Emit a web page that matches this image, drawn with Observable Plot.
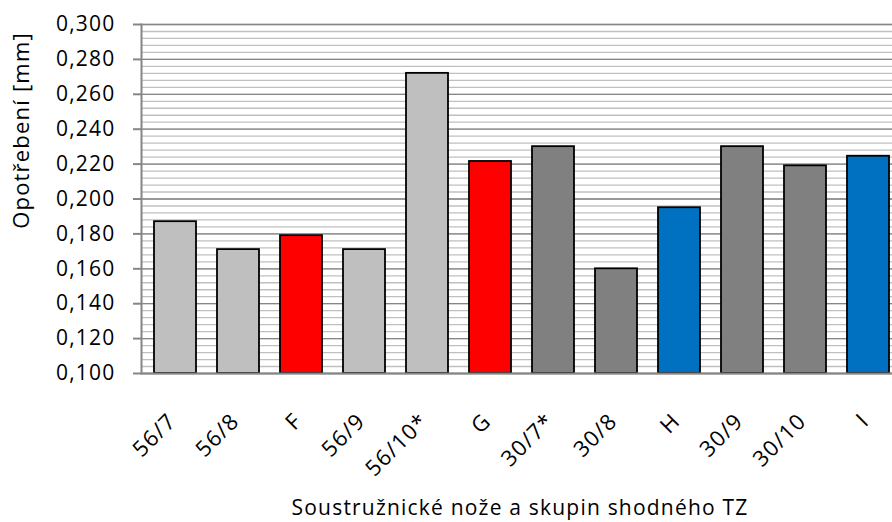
<!DOCTYPE html>
<html>
<head>
<meta charset="utf-8">
<script src="https://cdn.jsdelivr.net/npm/d3@7"></script>
<script src="https://cdn.jsdelivr.net/npm/@observablehq/plot@0.6"></script>
<style>
  html, body { margin: 0; padding: 0; background: #fff; overflow: hidden; }
  #chart svg { display: block; font-family: "Open Sans", sans-serif; }
</style>
</head>
<body>
<div id="chart"></div>
<script>
// Data
const categories = ["56/7", "56/8", "F", "56/9", "56/10*", "G", "30/7*", "30/8", "H", "30/9", "30/10", "I"];
const values = [0.187, 0.171, 0.179, 0.171, 0.272, 0.2215, 0.230, 0.160, 0.195, 0.230, 0.219, 0.2245];
const groups = ["56", "56", "FG", "56", "56", "FG", "30", "30", "HI", "30", "30", "HI"];
const yTicks = [0.100, 0.120, 0.140, 0.160, 0.180, 0.200, 0.220, 0.240, 0.260, 0.280, 0.300];
const yMinorStep = 0.004;
const yLabel = "Opotřebení [mm]";
const xLabel = "Soustružnické nože a skupin shodného TZ";

const data = categories.map((c, i) => ({category: c, value: values[i], group: groups[i]}));
const yMin = yTicks[0], yMax = yTicks[yTicks.length - 1];
const minorTicks = d3.range(Math.round(yMin / yMinorStep), Math.round(yMax / yMinorStep) + 1)
  .map(k => +(k * yMinorStep).toFixed(4));
const fmt = d => d.toFixed(3).replace(".", ",");

const W = 892, H = 522;
const mL = 141, mT = 24, mB = 149;

const chart = Plot.plot({
  width: W,
  height: H,
  marginLeft: mL,
  marginRight: 0,
  marginTop: mT,
  marginBottom: mB,
  style: {fontFamily: "Open Sans, sans-serif", fontSize: "21px", color: "#000", letterSpacing: "1.2px"},
  x: {domain: categories, range: [mL, 901], paddingInner: 1/3, paddingOuter: 1/6, label: null},
  y: {domain: [yMin, yMax], label: null},
  color: {domain: ["56", "FG", "30", "HI"], range: ["#bfbfbf", "#ff0000", "#808080", "#0070c0"]},
  marks: [
    Plot.ruleY(minorTicks, {stroke: "#c0c0c0", strokeWidth: 1.3}),
    Plot.ruleY(yTicks, {stroke: "#868686", strokeWidth: 1.3}),
    Plot.barY(data, {x: "category", y1: () => yMin, y2: "value", fill: "group", stroke: "#000", strokeWidth: 1.8}),
    Plot.ruleY([yMin], {stroke: "#868686", strokeWidth: 2}),
    Plot.frame({anchor: "left", stroke: "#868686", strokeWidth: 2}),
    Plot.axisY({ticks: yTicks, tickFormat: fmt, tickSize: 8, tickPadding: 18, stroke: "#868686", strokeWidth: 2, strokeOpacity: 1, fontSize: 21, label: null}),
    Plot.axisX({tickRotate: -45, tickSize: 0, tickPadding: 34, dy: 10, dx: -3, fontSize: 22, label: null}),
    Plot.text([yLabel], {frameAnchor: "top-left", dx: -120, dy: 106, rotate: -90, textAnchor: "middle", lineAnchor: "middle", fontSize: 22, fill: "#000"}),
    Plot.text([xLabel], {frameAnchor: "bottom", dx: 3, dy: 135, textAnchor: "middle", lineAnchor: "middle", fontSize: 21, fill: "#000"})
  ]
});
document.getElementById("chart").appendChild(chart);
</script>
</body>
</html>
